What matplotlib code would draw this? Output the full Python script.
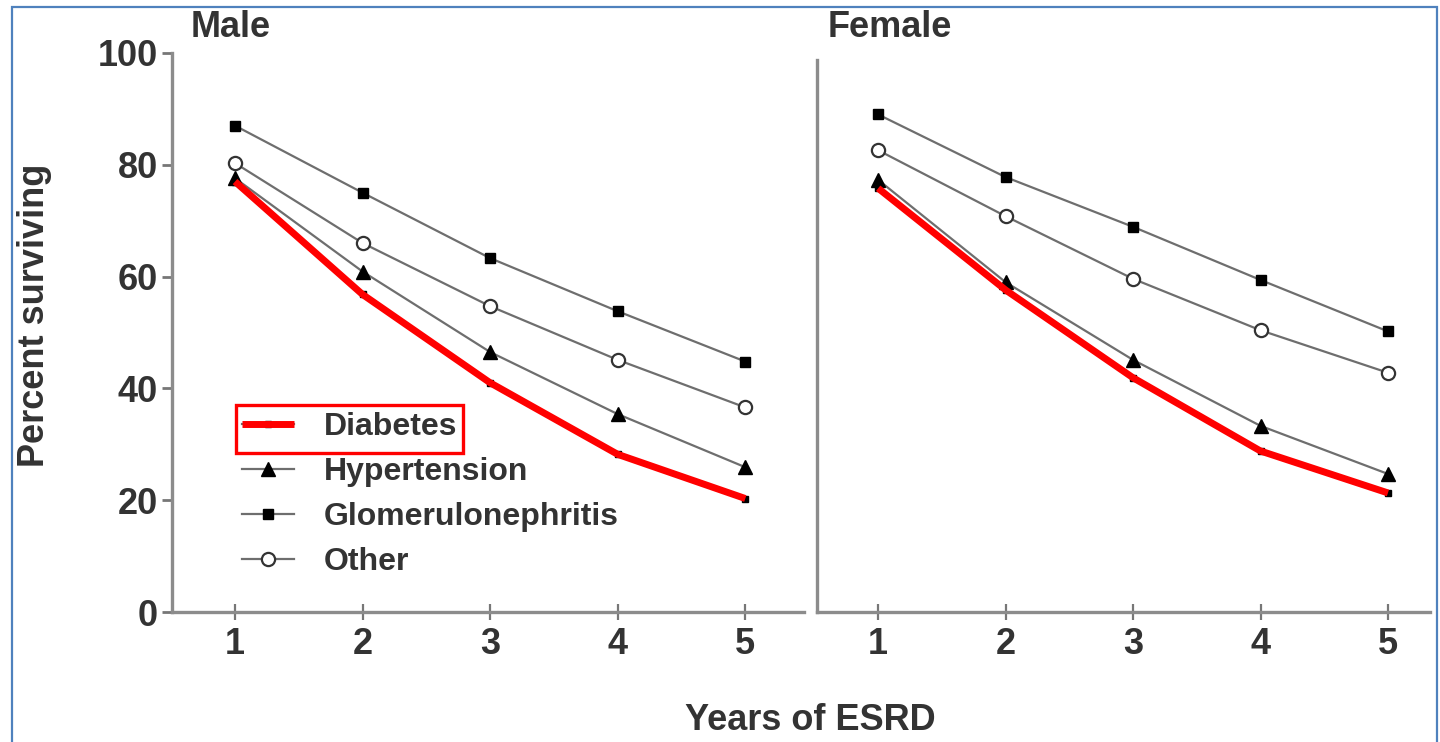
import matplotlib
matplotlib.use("Agg")
import matplotlib.pyplot as plt
from matplotlib.patches import Rectangle

# data
years = [1, 2, 3, 4, 5]

male_diabetes = [77.0, 56.8, 41.0, 28.2, 20.3]
male_hypertension = [77.6, 60.9, 46.5, 35.4, 25.9]
male_glomerulo = [87.0, 75.0, 63.3, 53.8, 44.8]
male_other = [80.3, 66.0, 54.7, 45.1, 36.6]

female_diabetes = [75.8, 57.6, 41.9, 28.8, 21.3]
female_hypertension = [77.3, 59.0, 45.1, 33.3, 24.7]
female_glomerulo = [89.0, 77.8, 68.9, 59.4, 50.2]
female_other = [82.6, 70.8, 59.6, 50.4, 42.8]

series_names = ["Diabetes", "Hypertension", "Glomerulonephritis", "Other"]
panel_titles = ["Male", "Female"]
y_ticks = [0, 20, 40, 60, 80, 100]

plt.rcParams['font.family'] = ['Liberation Sans', 'DejaVu Sans']
plt.rcParams['font.weight'] = 'bold'

TXT = '#333333'
SPINE = '#8c8c8c'
LINE = '#6e6e6e'
FS = 26

fig = plt.figure(figsize=(14.4, 7.42), dpi=100)
ax_m = fig.add_axes([172 / 1440, 130 / 742, 632 / 1440, 559 / 742])
ax_f = fig.add_axes([817 / 1440, 130 / 742, 613 / 1440, 559 / 742])


def draw_panel(ax, diab, hyp, glom, oth):
    h_diab, = ax.plot(years, diab, color=LINE, lw=1.6, marker='s', ms=4.5,
                      mfc='black', mec='black', zorder=3)
    h_hyp, = ax.plot(years, hyp, color=LINE, lw=1.6, marker='^', ms=10,
                     mfc='black', mec='black', zorder=3)
    h_glom, = ax.plot(years, glom, color=LINE, lw=1.6, marker='s', ms=7.5,
                      mfc='black', mec='black', zorder=3)
    h_oth, = ax.plot(years, oth, color=LINE, lw=1.6, marker='o', ms=9.5,
                     mfc='white', mec='#333333', mew=1.6, zorder=3)
    # red highlight of the diabetes curve
    h_red, = ax.plot(years, diab, color='#ff0000', lw=5, solid_capstyle='butt',
                     zorder=5)
    ax.set_ylim(0, 100)
    for s in ['top', 'right']:
        ax.spines[s].set_visible(False)
    for s in ['left', 'bottom']:
        ax.spines[s].set_color(SPINE)
        ax.spines[s].set_linewidth(2.4)
    ax.set_xticks(years)
    ax.tick_params(axis='x', direction='inout', length=12, width=1.6,
                   color='#777777', labelsize=FS, labelcolor=TXT, pad=5)
    return h_diab, h_hyp, h_glom, h_oth, h_red


hm = draw_panel(ax_m, male_diabetes, male_hypertension, male_glomerulo, male_other)
draw_panel(ax_f, female_diabetes, female_hypertension, female_glomerulo, female_other)

ax_m.set_xlim(0.506, 5.46)
ax_f.set_xlim(0.52, 5.33)

ax_m.set_yticks(y_ticks)
ax_m.tick_params(axis='y', direction='out', length=7, width=2, color='#777777',
                 labelsize=FS, labelcolor=TXT, pad=3)
ax_f.set_yticks([])
ax_f.spines['left'].set_bounds(0, 98.7)

ax_m.text(0.03, 1.045, panel_titles[0], transform=ax_m.transAxes, fontsize=FS,
          fontweight='bold', color=TXT, va='center', ha='left')
ax_f.text(0.018, 1.045, panel_titles[1], transform=ax_f.transAxes, fontsize=FS,
          fontweight='bold', color=TXT, va='center', ha='left')

fig.text(35 / 1440, 1 - 315 / 742, "Percent surviving", rotation=90,
         fontsize=FS, fontweight='bold', color=TXT, ha='center', va='center')
fig.text(810 / 1440, 1 - 720 / 742, "Years of ESRD", fontsize=FS,
         fontweight='bold', color=TXT, ha='center', va='center')

leg = ax_m.legend([(hm[0], hm[4]), hm[1], hm[2], hm[3]], series_names,
                  loc='upper left', bbox_to_anchor=(0.076, 0.397), frameon=False,
                  fontsize=23, handlelength=1.6, handletextpad=0.95,
                  labelspacing=0.47, borderpad=0.2)
for t in leg.get_texts():
    t.set_color(TXT)

# red box around the Diabetes entry
ax_m.add_patch(Rectangle((0.101, 0.284), 0.359, 0.086, transform=ax_m.transAxes,
                         fill=False, edgecolor='#ff0000', lw=2.4, zorder=6,
                         clip_on=False))

# blue frame around the figure
fig.add_artist(Rectangle((12 / 1440, -0.01), 1425 / 1440, 1 - 7 / 742 + 0.01,
                         transform=fig.transFigure, fill=False,
                         edgecolor='#4f81bd', lw=1.6))

fig.savefig("out.png", dpi=100, facecolor='white')
